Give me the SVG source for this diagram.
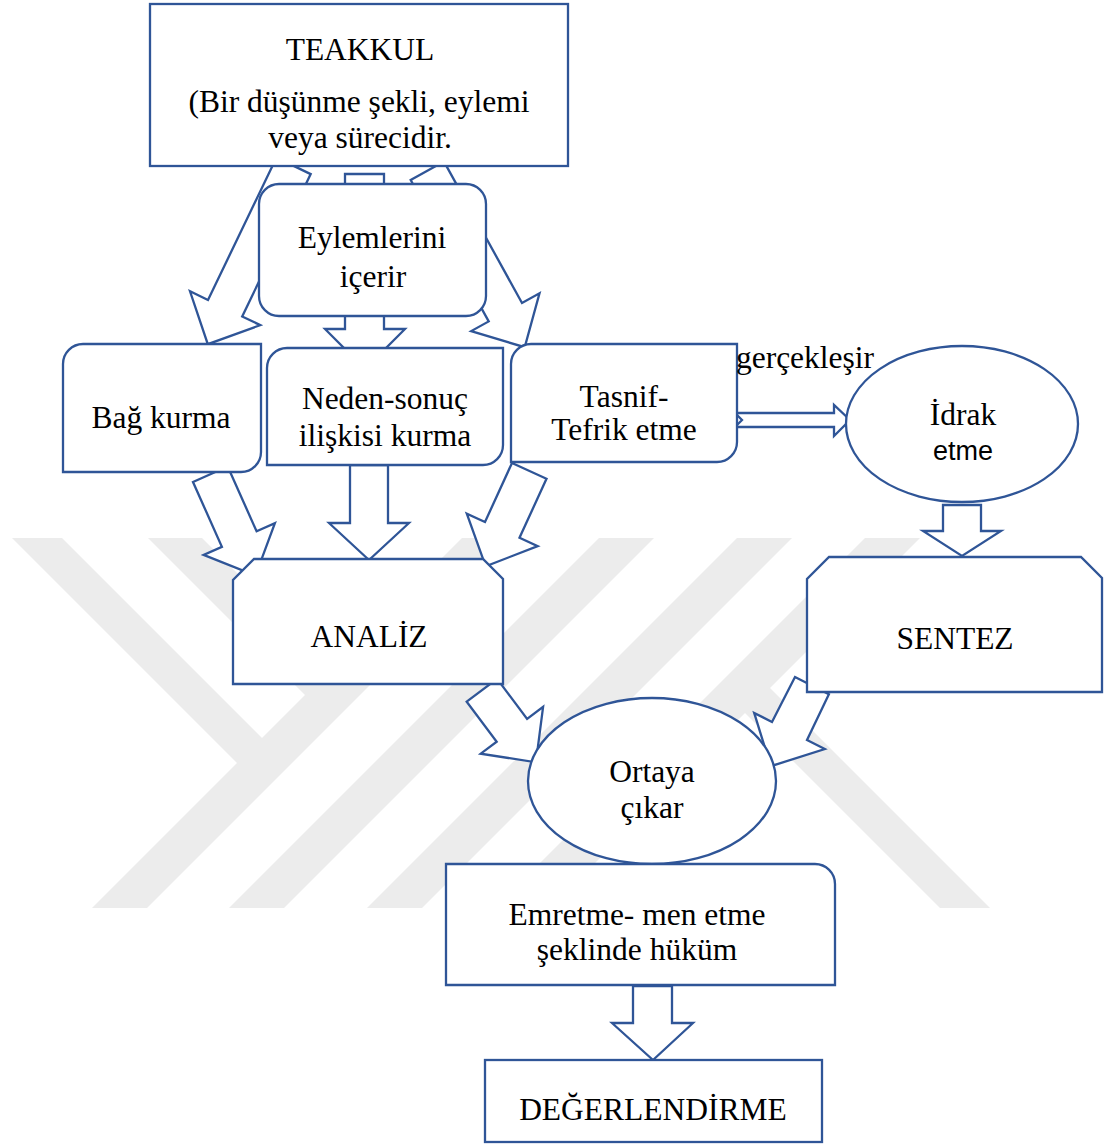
<svg xmlns="http://www.w3.org/2000/svg" width="1105" height="1144" viewBox="0 0 1105 1144">
<style>
.n{fill:#ffffff;stroke:#2f5597;stroke-width:2.3;stroke-linejoin:miter}
.a{fill:#ffffff;stroke:#2f5597;stroke-width:2.3;stroke-linejoin:miter}
.t{font-family:"Liberation Serif","Times New Roman",serif;font-size:31.5px;fill:#000;text-anchor:middle}
.s{font-family:"Liberation Sans",Arial,sans-serif;font-size:27px;fill:#000;text-anchor:middle}
.wm{fill:#ececec}
</style>
<rect width="1105" height="1144" fill="#ffffff"/>
<g id="watermark" class="wm">
<polygon points="92,908 147,908 517,538 462,538"/>
<polygon points="229,908 284,908 654,538 599,538"/>
<polygon points="367,908 422,908 792,538 737,538"/>
<polygon points="495,908 550,908 920,538 865,538"/>
<polygon points="12,538 62,538 272,748 247,773"/>
<polygon points="148,538 202,538 342,678 315,705"/>
<polygon points="760,678 990,908 940,908 735,703"/>
</g>
<g id="connectors">
<polygon class="a" points="276.5,157.6 310.7,174.1 242.2,316.5 260.3,325.1 207.8,344.2 190,291.3 208,300"/>
<polygon class="a" points="444,161.6 522,303 539.5,293.3 524.7,347.2 471.2,331.1 488.7,321.4 410.7,180"/>
<polygon class="a" points="345,174 384,174 384,329 405,329 365,369 325,329 345,329"/>
<polygon class="a" points="193,482 227.7,466.5 256.6,531.3 274.9,523.2 255.5,575.6 203.6,554.9 221.9,546.8"/>
<polygon class="a" points="350,465 388,465 388,523 409,523 369,560 329,523 350,523"/>
<polygon class="a" points="512,463 546.5,478.8 519.5,537.8 537.7,546.1 485.7,566.3 466.8,513.7 485,522"/>
<polygon class="a" points="735,413 834,413 834,405 850,420 834,436 834,427 735,427 742,420"/>
<polygon class="a" points="943,505 981,505 981,531 1001,531 962,556 923,531 943,531"/>
<polygon class="a" points="466.7,701.7 497.1,678.9 527.1,718.9 543.1,706.9 535.9,762.3 480.7,753.7 496.7,741.7"/>
<polygon class="a" points="795,677 828.9,694.3 807,740 824.8,749.1 770.7,766.2 754.2,712.9 772,722"/>
<polygon class="a" points="633,986 672,986 672,1023 693,1023 653,1060 612,1023 633,1023"/>
</g>
<g id="teakkul">
<rect class="n" x="150" y="4" width="418" height="162"/>
<text class="t" x="360" y="60">TEAKKUL</text>
<text class="t" x="359" y="112">(Bir düşünme şekli, eylemi</text>
<text class="t" x="360" y="148">veya sürecidir.</text>
</g>
<g id="eylemlerini">
<rect class="n" x="259" y="184" width="227" height="132" rx="20" ry="20"/>
<text class="t" x="372" y="248">Eylemlerini</text>
<text class="t" x="373" y="287">içerir</text>
</g>
<g id="bag">
<path class="n" d="M83,344 H261 V452 A20,20 0 0 1 241,472 H63 V364 A20,20 0 0 1 83,344 Z"/>
<text class="t" x="161" y="428">Bağ kurma</text>
</g>
<g id="neden">
<path class="n" d="M287,348 H503 V445 A20,20 0 0 1 483,465 H267 V368 A20,20 0 0 1 287,348 Z"/>
<text class="t" x="385" y="409">Neden-sonuç</text>
<text class="t" x="385" y="446">ilişkisi kurma</text>
</g>
<g id="tasnif">
<path class="n" d="M531,344 H737 V442 A20,20 0 0 1 717,462 H511 V364 A20,20 0 0 1 531,344 Z"/>
<text class="t" x="624" y="407">Tasnif-</text>
<text class="t" x="624" y="440">Tefrik etme</text>
</g>
<g id="label-gerceklesir">
<text class="t" x="805" y="368">gerçekleşir</text>
</g>
<g id="idrak">
<ellipse class="n" cx="962" cy="424" rx="116" ry="78"/>
<text class="t" x="963" y="425">İdrak</text>
<text class="s" x="963" y="460">etme</text>
</g>
<g id="analiz">
<path class="n" d="M254,559 H483 L503,579 V684 H233 V580 Z"/>
<text class="t" x="369" y="647">ANALİZ</text>
</g>
<g id="sentez">
<path class="n" d="M829,557 H1081 L1102,578 V692 H807 V579 Z"/>
<text class="t" x="955" y="649">SENTEZ</text>
</g>
<g id="ortaya">
<ellipse class="n" cx="652" cy="781" rx="124" ry="83"/>
<text class="t" x="652" y="782">Ortaya</text>
<text class="t" x="652" y="818">çıkar</text>
</g>
<g id="emretme">
<path class="n" d="M446,864 H815 A20,20 0 0 1 835,884 V985 H446 Z"/>
<text class="t" x="637" y="925">Emretme- men etme</text>
<text class="t" x="637" y="960">şeklinde hüküm</text>
</g>
<g id="degerlendirme">
<rect class="n" x="485" y="1060" width="337" height="82"/>
<text class="t" x="653" y="1120">DEĞERLENDİRME</text>
</g>
</svg>
